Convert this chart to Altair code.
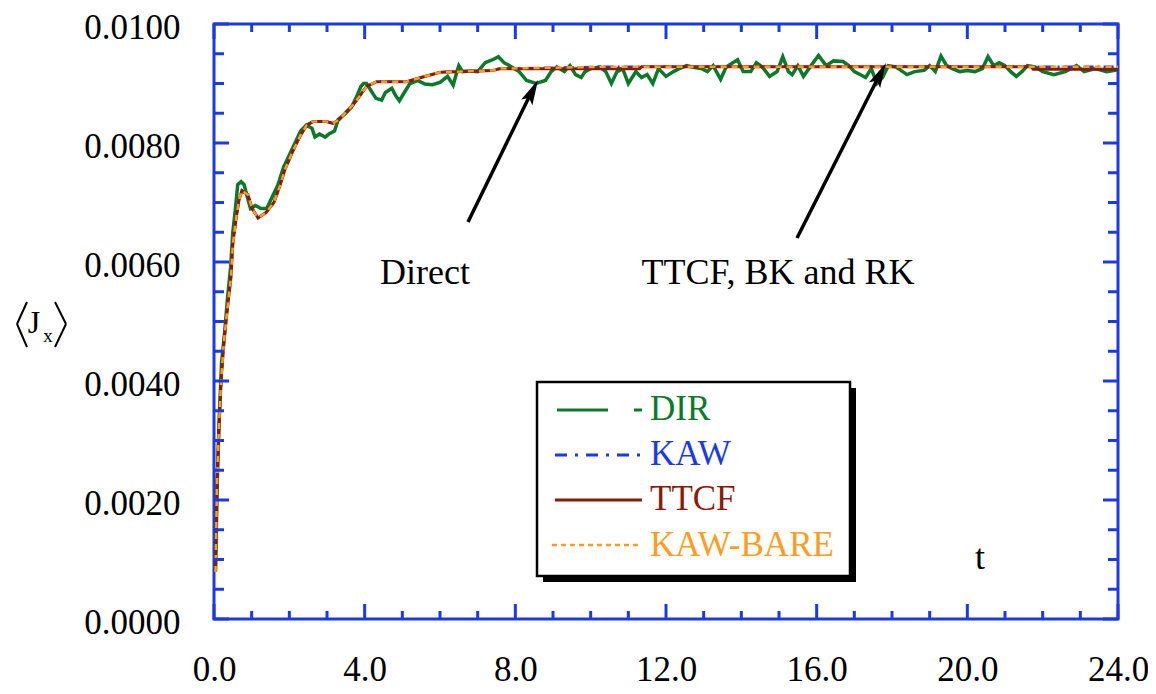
import altair as alt
import pandas as pd

FONT = "Liberation Serif"
BLUE = "#1a3ae6"
GREEN = "#0a7a2a"
RED = "#8b1a0a"
ORANGE = "#ff9d1e"
KAWBLUE = "#1a3ae6"

# ---- data ----
T_MAIN = [0.04, 0.08, 0.13, 0.19, 0.27, 0.37, 0.45, 0.50, 0.58, 0.66, 0.74, 0.90, 1.01, 1.17,
          1.38, 1.59, 1.75, 1.88, 2.07, 2.28, 2.46, 2.63, 2.99, 3.16, 3.34, 3.52, 3.69, 3.88,
          4.05, 4.32, 5.12, 5.38, 6.00, 7.41, 7.59, 10.25, 14.0, 18.0, 21.7, 24.0]
KAW_V = [0.00079, 0.00227, 0.00320, 0.00404, 0.00470, 0.00530, 0.00574, 0.00630, 0.00670,
         0.00703, 0.00720, 0.00713, 0.00690, 0.00674, 0.00683, 0.00700, 0.00728, 0.00755,
         0.00783, 0.00811, 0.00830, 0.00836, 0.00836, 0.00833, 0.00840, 0.00853, 0.00864,
         0.00880, 0.00895, 0.00903, 0.00903, 0.00908, 0.00919, 0.00922, 0.00925, 0.00928,
         0.00928, 0.00928, 0.00928, 0.00928]
KAWBARE_V = list(KAW_V)
T_TTCF = T_MAIN[:35] + [10.25, 11.30, 11.35, 16.0, 21.70, 21.75, 24.0]
TTCF_V = KAW_V[:35] + [0.00925, 0.00925, 0.00928, 0.00928, 0.00928, 0.00924, 0.00924]

T_DIR = [0.04, 0.09, 0.14, 0.20, 0.28, 0.36, 0.44, 0.50, 0.57, 0.63, 0.72, 0.80, 0.88, 0.97,
         1.10, 1.25, 1.40, 1.55, 1.70, 1.85, 2.00, 2.15, 2.30, 2.45, 2.60, 2.68, 2.80, 2.95,
         3.05, 3.20, 3.30, 3.50, 3.65, 3.80, 3.90, 3.97, 4.05, 4.15, 4.30, 4.45, 4.55, 4.72,
         4.82, 4.92, 5.20, 5.40, 5.60, 5.80, 6.00, 6.20, 6.35, 6.45, 6.50, 6.60, 6.80, 7.00,
         7.20, 7.40, 7.55, 7.70, 7.85, 8.10, 8.30, 8.55, 8.80, 8.95, 9.10, 9.30, 9.45, 9.60,
         9.75, 9.85, 10.00, 10.25, 10.40, 10.55, 10.70, 10.85, 11.00, 11.20, 11.35, 11.50,
         11.65, 11.80, 12.00, 12.20, 12.35, 12.55, 12.75, 12.95, 13.10, 13.25, 13.45, 13.60,
         13.90, 14.05, 14.25, 14.40, 14.55, 14.75, 14.95, 15.10, 15.25, 15.35, 15.50, 15.65,
         15.85, 16.05, 16.25, 16.45, 16.70, 16.85, 17.00, 17.15, 17.30, 17.45, 17.60, 17.75,
         17.90, 18.10, 18.40, 18.60, 18.85, 19.00, 19.15, 19.30, 19.45, 19.60, 19.80, 20.00,
         20.20, 20.40, 20.55, 20.70, 20.85, 21.00, 21.15, 21.30, 21.45, 21.60, 21.80, 22.00,
         22.30, 22.60, 22.90, 23.10, 23.40, 23.70, 24.00]
DIR_V = [0.00080, 0.00240, 0.00340, 0.00430, 0.00480, 0.00540, 0.00590, 0.00650, 0.00690,
         0.00730, 0.00735, 0.00730, 0.00710, 0.00690, 0.00695, 0.00690, 0.00690, 0.00710,
         0.00730, 0.00760, 0.00780, 0.00800, 0.00820, 0.00830, 0.00825, 0.00810, 0.00815,
         0.00810, 0.00815, 0.00820, 0.00840, 0.00850, 0.00860, 0.00880, 0.00895, 0.00900,
         0.00900, 0.00890, 0.00875, 0.00872, 0.00885, 0.00892, 0.00880, 0.00871, 0.00900,
         0.00905, 0.00899, 0.00898, 0.00902, 0.00912, 0.00897, 0.00920, 0.00930, 0.00920,
         0.00921, 0.00920, 0.00935, 0.00940, 0.00945, 0.00935, 0.00930, 0.00920, 0.00905,
         0.00900, 0.00905, 0.00920, 0.00928, 0.00920, 0.00930, 0.00915, 0.00910, 0.00920,
         0.00925, 0.00928, 0.00920, 0.00900, 0.00920, 0.00925, 0.00900, 0.00920, 0.00910,
         0.00915, 0.00900, 0.00925, 0.00912, 0.00920, 0.00925, 0.00930, 0.00927, 0.00925,
         0.00920, 0.00930, 0.00907, 0.00928, 0.00940, 0.00920, 0.00920, 0.00935, 0.00928,
         0.00912, 0.00920, 0.00945, 0.00920, 0.00915, 0.00930, 0.00912, 0.00930, 0.00947,
         0.00930, 0.00938, 0.00937, 0.00930, 0.00920, 0.00915, 0.00910, 0.00925, 0.00900,
         0.00910, 0.00930, 0.00928, 0.00915, 0.00920, 0.00922, 0.00930, 0.00920, 0.00946,
         0.00930, 0.00925, 0.00920, 0.00922, 0.00920, 0.00925, 0.00945, 0.00930, 0.00935,
         0.00930, 0.00920, 0.00912, 0.00920, 0.00930, 0.00928, 0.00920, 0.00915, 0.00920,
         0.00930, 0.00920, 0.00925, 0.00920, 0.00923]

X_LABELS = [0, 4, 8, 12, 16, 20, 24]
X_MINOR = [1, 2, 3, 5, 6, 7, 9, 10, 11, 13, 14, 15, 17, 18, 19, 21, 22, 23]
Y_LABELS = [0.0, 0.002, 0.004, 0.006, 0.008, 0.010]
Y_MINOR = [0.0005, 0.001, 0.0015, 0.0025, 0.003, 0.0035, 0.0045, 0.005, 0.0055,
           0.0065, 0.007, 0.0075, 0.0085, 0.009, 0.0095]

W, H = 904, 595
OY = -4  # annotation offset: annotation positions measured from y=20 on the page

xs = alt.Scale(domain=[0, 24], nice=False, zero=False)
ys = alt.Scale(domain=[0, 0.01], nice=False, zero=False)

x_axis = alt.Axis(values=X_LABELS, format=".1f", ticks=False, tickSize=0, domain=False,
                  grid=False, labelFont=FONT, labelFontSize=35, labelColor="black",
                  labelPadding=33, labelFlush=False, labelOverlap=False, title=None)
y_axis = alt.Axis(values=Y_LABELS, format=".4f", ticks=False, tickSize=0, domain=False,
                  grid=False, labelFont=FONT, labelFontSize=35, labelColor="black",
                  labelPadding=34, labelOffset=3, labelFlush=False, labelOverlap=False,
                  title=None)

XT = dict(scale=xs, axis=x_axis)
YT = dict(scale=ys, axis=y_axis)


def series(t, v, **mark):
    df = pd.DataFrame({"t": t, "v": v})
    return alt.Chart(df).mark_line(**mark).encode(
        x=alt.X("t:Q", **XT), y=alt.Y("v:Q", **YT))


one = alt.Data(values=[{"k": 0}])


def txt(s, x, y, size=36, color="black", align="center"):
    return alt.Chart(one).mark_text(text=s, font=FONT, fontSize=size, color=color,
                                    align=align, baseline="middle").encode(
        x=alt.value(x), y=alt.value(y + OY))


def seg(x1, y1, x2, y2, color="black", width=3, dash=None):
    props = dict(color=color, strokeWidth=width)
    if dash:
        props["strokeDash"] = dash
    return alt.Chart(one).mark_rule(**props).encode(
        x=alt.value(x1), y=alt.value(y1 + OY), x2=alt.value(x2), y2=alt.value(y2 + OY))


def box(x1, y1, x2, y2, fill, stroke=None, sw=0):
    props = dict(fill=fill)
    if stroke:
        props["stroke"] = stroke
        props["strokeWidth"] = sw
    return alt.Chart(one).mark_rect(**props).encode(
        x=alt.value(x1), y=alt.value(y1 + OY), x2=alt.value(x2), y2=alt.value(y2 + OY))


def head(x, y, angle):
    return alt.Chart(one).mark_point(shape="M0,-1L0.5,1L0,0.6L-0.5,1Z", size=625, filled=True,
                                     color="black", opacity=1, angle=angle).encode(
        x=alt.value(x), y=alt.value(y + OY))


dir_line = series(T_DIR, DIR_V, color=GREEN, strokeWidth=3.5)
kaw_line = series(T_MAIN, KAW_V, color=KAWBLUE, strokeWidth=2.5, strokeDash=[10, 4, 2, 4])
ttcf_line = series(T_TTCF, TTCF_V, color=RED, strokeWidth=3)
bare_line = series(T_MAIN, KAWBARE_V, color=ORANGE, strokeWidth=2.5, strokeDash=[6, 5])


def xticks(vals, length):
    df = pd.DataFrame({"t": vals})
    b = alt.Chart(df).mark_rule(color=BLUE, strokeWidth=3).encode(
        x=alt.X("t:Q", **XT), y=alt.value(H), y2=alt.value(H - length))
    t = alt.Chart(df).mark_rule(color=BLUE, strokeWidth=3).encode(
        x=alt.X("t:Q", **XT), y=alt.value(0), y2=alt.value(length))
    return [b, t]


def yticks(vals, length):
    df = pd.DataFrame({"v": vals})
    l = alt.Chart(df).mark_rule(color=BLUE, strokeWidth=3).encode(
        y=alt.Y("v:Q", **YT), x=alt.value(0), x2=alt.value(length))
    r = alt.Chart(df).mark_rule(color=BLUE, strokeWidth=3).encode(
        y=alt.Y("v:Q", **YT), x=alt.value(W), x2=alt.value(W - length))
    return [l, r]


ticks = xticks(X_LABELS, 15) + xticks(X_MINOR, 8) + yticks(Y_LABELS, 15) + yticks(Y_MINOR, 10)

# annotations
arrows = [
    seg(254, 202, 318, 71, width=3.5),
    head(318.4, 71.2, 26.6),
    seg(583, 218, 666, 54, width=3.5),
    head(666.3, 54.1, 27.2),
]
notes = [
    txt("Direct", 211, 253),
    txt("TTCF, BK and RK", 564, 253),
    txt("t", 766, 538),
]

# legend
legend = [
    box(329, 368, 642, 562, "black"),
    box(323, 362, 636, 556, "white", stroke="black", sw=2.5),
    seg(343, 390, 394, 390, color=GREEN, width=3),
    seg(420, 390, 428, 390, color=GREEN, width=3),
    seg(341, 435, 428, 435, color=KAWBLUE, width=3, dash=[12, 8, 3, 8]),
    seg(341, 480, 428, 480, color=RED, width=3),
    seg(338, 525, 424, 525, color=ORANGE, width=2.5, dash=[5, 4]),
    txt("DIR", 436, 389, size=35, color=GREEN, align="left"),
    txt("KAW", 436, 434, size=35, color=KAWBLUE, align="left"),
    txt("TTCF", 436, 479, size=35, color=RED, align="left"),
    txt("KAW-BARE", 436, 525, size=35, color=ORANGE, align="left"),
]

# y-axis title  <J_x>
ylabel = [
    seg(-187, 282, -197, 304, width=2),
    seg(-197, 304, -187, 327, width=2),
    seg(-159, 282, -148, 304, width=2),
    seg(-148, 304, -159, 327, width=2),
    txt("J", -180, 303, size=32),
    txt("x", -166, 316, size=19),
]

chart = alt.layer(
    dir_line, kaw_line, ttcf_line, bare_line, *ticks, *arrows, *notes, *legend, *ylabel
).properties(
    width=W, height=H,
    autosize=alt.AutoSizeParams(type="none"),
    padding={"left": 206, "top": 16, "right": 30, "bottom": 75},
).configure_view(stroke=BLUE, strokeWidth=3)

chart.save("out.html", embed_options={"renderer": "svg", "actions": False})
